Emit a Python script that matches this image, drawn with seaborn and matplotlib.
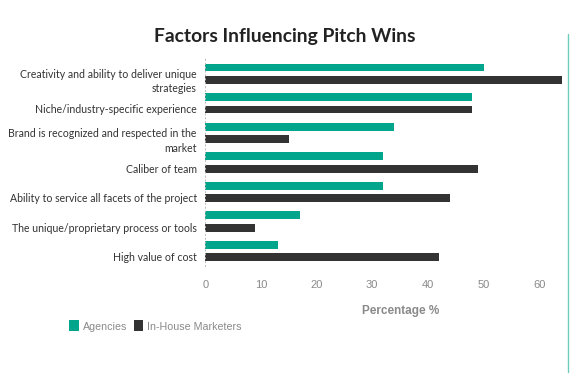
import numpy as np
import pandas as pd
import matplotlib
matplotlib.use("Agg")
import matplotlib.pyplot as plt
import matplotlib.transforms as mtransforms
from matplotlib.lines import Line2D
from matplotlib.patches import Patch
import seaborn as sns

# --- данные ---
factors = [
    "Creativity and ability to deliver unique\nstrategies",
    "Niche/industry-specific experience",
    "Brand is recognized and respected in the\nmarket",
    "Caliber of team",
    "Ability to service all facets of the project",
    "The unique/proprietary process or tools",
    "High value of cost",
]
agencies = [50, 48, 34, 32, 32, 17, 13]
in_house = [64, 48, 15, 49, 44, 9, 42]
groups = ["Agencies", "In-House Marketers"]
x_ticks = [0, 10, 20, 30, 40, 50, 60]

TEAL = "#00a58c"
DARK = "#333333"
GRAY = "#8a8a8a"

df = pd.DataFrame({"factor": factors, groups[0]: agencies, groups[1]: in_house})
long = df.melt(id_vars="factor", var_name="group", value_name="pct")

sns.set_theme(style="white")
plt.rcParams["font.family"] = ["Lato", "DejaVu Sans"]

fig = plt.figure(figsize=(5.7, 3.8), dpi=100)
ax = fig.add_axes([0.36, 0.30, 0.63, 0.545])

sns.barplot(data=long, y="factor", x="pct", hue="group",
            palette=[TEAL, DARK], orient="h", ax=ax,
            width=0.84, gap=0.36, legend=False, saturation=1,
            linewidth=0)

ax.set_xlim(0, 64.5)
ax.set_ylim(len(factors) - 0.5, -0.5)
ax.set_xticks(x_ticks)
ax.set_xticklabels([str(t) for t in x_ticks], family="Liberation Sans",
                   fontsize=8, color=GRAY)
ax.tick_params(axis="x", length=0, pad=10)
ax.tick_params(axis="y", length=2, width=0.6, color="#bbbbbb", pad=4)
ax.set_yticks(range(len(factors)))
ax.set_yticklabels(factors, fontsize=7.6, color="#333333", linespacing=1.35)
# подписи категорий чуть ниже центра группы
offset = mtransforms.ScaledTranslation(0, -4 / 72, fig.dpi_scale_trans)
for lbl in ax.get_yticklabels():
    lbl.set_transform(lbl.get_transform() + offset)

for s in ["top", "right", "bottom"]:
    ax.spines[s].set_visible(False)
ax.spines["left"].set_linestyle((0, (1, 3)))
ax.spines["left"].set_color("#bbbbbb")
ax.spines["left"].set_linewidth(0.7)

ax.set_ylabel("")
ax.set_xlabel("Percentage %", family="Liberation Sans", fontsize=8.5,
              fontweight="bold", color=GRAY, labelpad=12)
ax.xaxis.set_label_coords(0.545, -0.19)

fig.text(0.5, 0.905, "Factors Influencing Pitch Wins", ha="center",
         va="center", fontsize=13.9, fontweight="bold", color="#222222")

handles = [Patch(facecolor=TEAL, edgecolor="none"),
           Patch(facecolor=DARK, edgecolor="none")]
leg = fig.legend(handles, groups, loc="center left",
                 bbox_to_anchor=(0.105, 0.142), ncol=2, frameon=False,
                 handlelength=0.85, handleheight=1.2, handletextpad=0.4,
                 columnspacing=0.6,
                 prop={"family": "Liberation Sans", "size": 7.7})
for t in leg.get_texts():
    t.set_color(GRAY)

# бирюзовая рамка справа
fig.add_artist(Line2D([0.997, 0.997], [0.02, 0.91], color="#6cccbc",
                      linewidth=1.0, transform=fig.transFigure))

fig.savefig("out.png", dpi=100)
